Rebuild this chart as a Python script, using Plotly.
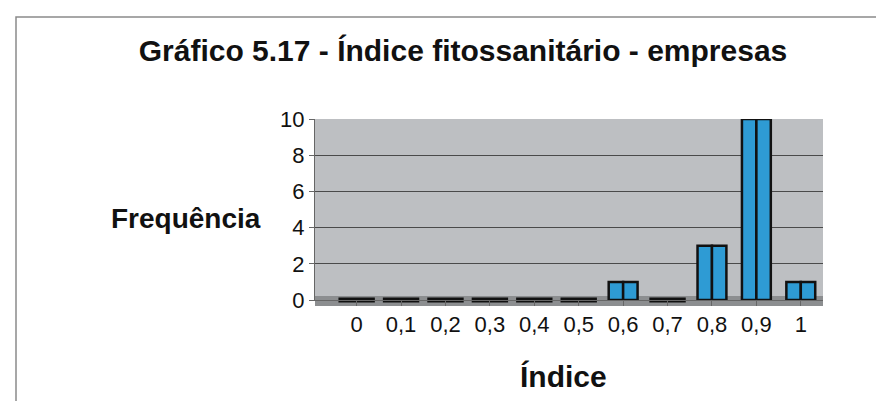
import plotly.graph_objects as go

categories = ["0", "0,1", "0,2", "0,3", "0,4", "0,5", "0,6", "0,7", "0,8", "0,9", "1"]
frequencia = [0, 0, 0, 0, 0, 0, 1, 0, 3, 10, 1]
y_ticks = [0, 2, 4, 6, 8, 10]

W, H = 884, 401
L, R, T, B = 307, 815, 111, 292
pw, ph = R - L, B - T

def px(x):
    return (x - L) / pw

def py(y):
    return (B - y) / ph

fig = go.Figure()
for name in ["frente", "lado"]:
    fig.add_trace(go.Bar(
        x=categories, y=frequencia, name=name,
        marker=dict(color="#2E9BD4", line=dict(color="#111111", width=2.5)),
        showlegend=False,
    ))

zero_x = [c for c, v in zip(categories, frequencia) if v == 0]
zero_y = [v for v in frequencia if v == 0]
fig.add_trace(go.Scatter(
    x=zero_x, y=zero_y, mode="markers", showlegend=False, hoverinfo="skip",
    marker=dict(symbol="line-ew-open", size=26, color="#111111",
                line=dict(color="#111111", width=5)),
    cliponaxis=False,
))

fig.update_layout(
    width=W, height=H,
    margin=dict(l=L, r=W - R, t=T, b=H - B),
    paper_bgcolor="white",
    plot_bgcolor="#BDBFC2",
    barmode="group", bargap=0.35, bargroupgap=0,
    font=dict(family="Liberation Sans, Arial, sans-serif", color="#111111"),
    title=dict(text="<b>Gráfico 5.17 - Índice fitossanitário - empresas</b>",
               x=455 / W, xanchor="center", y=1 - 42 / H, yanchor="middle",
               font=dict(size=30, color="#111111")),
    xaxis=dict(type="category", showgrid=False, ticks="outside", ticklen=5,
               tickcolor="#666", showline=True, linecolor="#666",
               tickfont=dict(size=22), zeroline=False),
    yaxis=dict(range=[0, 10], tickvals=y_ticks, showgrid=True,
               gridcolor="#4A4A4A", gridwidth=1, ticks="outside", ticklen=5,
               tickcolor="#666", showline=True, linecolor="#666",
               tickfont=dict(size=22), zeroline=False),
    shapes=[
        dict(type="rect", xref="paper", yref="paper",
             x0=px(8), x1=px(892), y0=py(399), y1=py(9),
             line=dict(color="#8A8A8A", width=1.5), layer="below"),
        dict(type="rect", xref="paper", yref="paper",
             x0=0, x1=1, y0=py(298), y1=py(288),
             fillcolor="#8C8E90", line=dict(width=0), layer="below"),
    ],
    annotations=[
        dict(text="<b>Frequência</b>", xref="paper", yref="paper",
             x=px(178), y=py(210), xanchor="center", yanchor="middle",
             showarrow=False, font=dict(size=28)),
        dict(text="<b>Índice</b>", xref="paper", yref="paper",
             x=px(555), y=py(368), xanchor="center", yanchor="middle",
             showarrow=False, font=dict(size=30)),
    ],
)

fig.write_html("out.html")
